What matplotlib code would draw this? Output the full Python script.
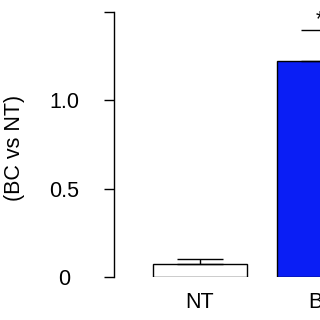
import matplotlib
matplotlib.use('Agg')
import matplotlib.pyplot as plt

groups = ['NT', 'BC']
values = [0.076, 1.222]
errors = [0.026, 0.178]
bar_colors = ['white', '#0a1ef5']
yticks = [0, 0.5, 1.0, 1.5]
ytick_labels = ['0', '0.5', '1.0', '']

plt.rcParams['font.family'] = ['Liberation Sans', 'DejaVu Sans']
fs = 15.5

fig = plt.figure(figsize=(3.2, 3.2), dpi=100)
# axes run past the right edge, the reference is cropped there
ax = fig.add_axes([114 / 320, 43 / 320, 336 / 320, 265 / 320])

x = list(range(len(groups)))
ax.bar(x, values, width=0.76, color=bar_colors, edgecolor='black', linewidth=1.0)
ax.errorbar(x, values, yerr=[[0] * len(errors), errors], fmt='none',
            ecolor='black', elinewidth=1.0, capsize=16.5, capthick=1.0)
ax.text(0.97, 1.455, '*', ha='center', va='center', fontsize=fs, clip_on=False)

ax.set_xlim(-0.696, 2.024)
ax.set_ylim(0, 1.5)
for s in ['top', 'right', 'bottom']:
    ax.spines[s].set_visible(False)
ax.spines['left'].set_linewidth(1.0)

ax.set_yticks(yticks)
ax.set_yticklabels(ytick_labels, fontsize=fs, ha='center')
ax.tick_params(axis='y', length=7.2, width=1.0, pad=28.8)
ax.set_xticks(x)
ax.set_xticklabels(groups, fontsize=fs)
ax.tick_params(axis='x', length=0, pad=10.5)

fig.text(15 / 320, 1 - 148 / 320, '(BC vs NT)', rotation=90,
         ha='center', va='center', fontsize=fs)

fig.savefig('out.png', dpi=100)
